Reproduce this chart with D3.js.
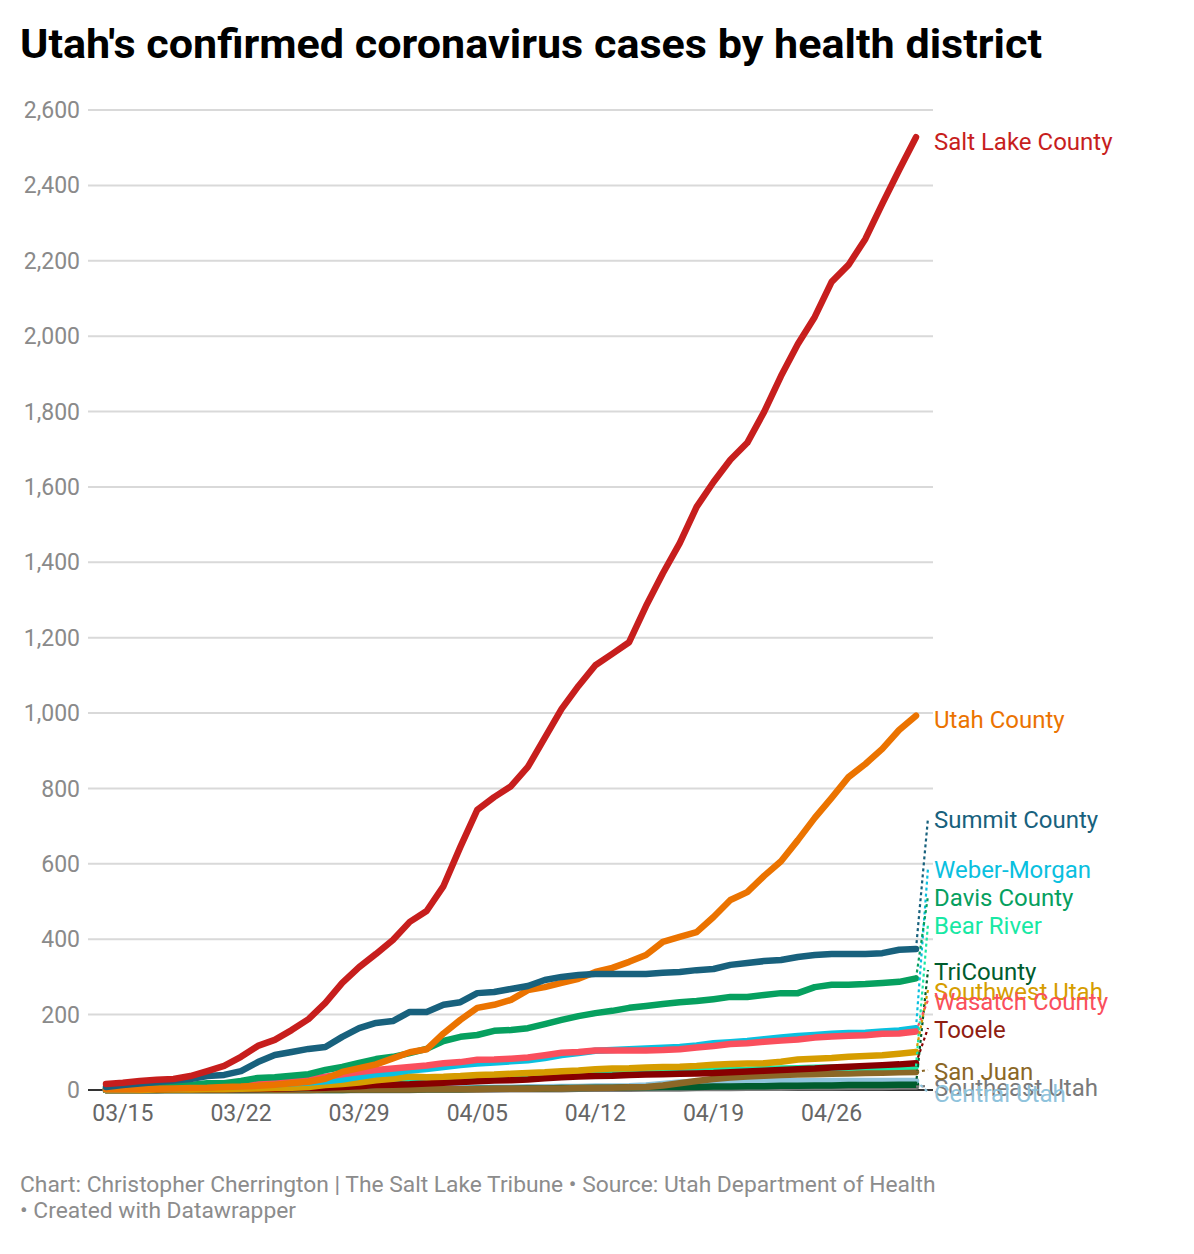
<!DOCTYPE html>
<html>
<head>
<meta charset="utf-8">
<script src="https://cdn.jsdelivr.net/npm/d3@7"></script>
<style>
  body { margin: 0; background: #fff; }
  svg { font-family: Roboto, "Noto Sans", sans-serif; }
</style>
</head>
<body>
<div id="chart"></div>
<script>
// Data (cumulative confirmed cases, 03/14 .. 05/01)
const startDate = new Date(2020, 2, 14);
const dayCount = 49;
const dates = d3.range(dayCount).map(i => d3.timeDay.offset(startDate, i));

const districts = [
  'Southeast Utah', 'Central Utah', 'TriCounty', 'San Juan', 'Bear River', 'Tooele',
  'Southwest Utah', 'Weber-Morgan', 'Wasatch County', 'Davis County', 'Utah County',
  'Summit County', 'Salt Lake County'
];

const saltLake = [16,19,24,27,29,37,50,64,88,117,133,159,188,231,284,326,361,398,446,475,541,645,743,777,806,857,934,1011,1072,1127,1157,1188,1284,1371,1451,1547,1613,1672,1717,1799,1894,1979,2051,2144,2189,2258,2351,2441,2528];
const utahCounty = [1,1,2,3,4,5,6,8,9,11,14,18,22,30,48,58,68,84,100,108,150,186,218,226,239,265,273,284,295,313,324,340,358,393,406,419,459,504,525,568,607,663,722,775,830,865,905,955,993];
const summit = [8,13,17,21,25,29,37,40,50,74,93,101,109,114,141,164,178,183,207,207,226,233,257,260,268,276,292,300,305,308,308,308,308,311,313,318,321,332,337,342,345,353,358,361,361,361,363,372,374];
const davis = [4,6,8,10,11,13,18,18,24,32,34,38,42,53,61,72,82,88,98,109,130,141,146,157,159,164,175,186,196,204,210,218,223,228,233,236,241,247,247,252,257,257,273,279,279,281,284,287,296];
const weberMorgan = [1,2,3,4,5,6,8,9,11,13,15,18,20,23,28,35,42,45,52,56,61,66,70,73,76,79,85,93,98,104,106,108,110,112,114,118,124,127,130,135,139,143,146,149,151,152,155,158,164];
const wasatch = [3,4,5,6,7,8,10,11,14,18,21,24,29,35,42,48,53,57,61,65,71,74,80,81,83,86,92,99,101,105,105,105,105,106,108,113,117,122,124,128,131,134,139,142,144,145,149,150,155];
const southwest = [0,0,0,1,1,1,2,2,3,4,5,6,8,13,16,20,26,30,36,34,35,37,40,41,43,45,47,50,52,55,57,58,60,61,62,64,67,69,70,71,75,81,83,85,88,90,92,96,101];
const bearRiver = [0,0,0,0,1,1,1,1,2,2,3,4,5,7,9,11,14,16,20,23,26,29,31,33,35,37,38,40,42,44,45,46,47,48,50,51,52,53,54,56,57,58,59,60,60,61,61,62,63];
const tooele = [0,0,0,0,1,1,1,1,2,2,3,4,5,6,8,10,13,14,15,17,19,21,23,25,26,28,31,34,36,37,38,40,41,42,43,44,45,47,49,51,53,55,57,60,62,64,66,68,71];
const sanJuan = [0,0,0,0,0,0,0,0,0,0,0,0,0,1,1,1,1,1,1,2,2,2,2,3,3,3,4,4,5,5,6,7,8,12,18,24,29,33,36,38,40,41,42,43,44,45,46,47,48];
const centralUtah = [0,0,0,0,0,0,0,0,0,1,1,1,1,2,2,2,3,3,3,4,4,5,5,6,6,7,7,8,8,9,9,10,12,16,20,22,22,23,23,23,23,23,23,24,24,24,24,24,24];
const triCounty = [0,0,0,0,0,0,0,0,0,0,0,0,0,0,0,1,1,1,1,2,2,2,3,3,3,4,4,5,5,6,6,7,7,8,8,8,9,9,10,10,11,11,12,12,13,13,13,14,14];
const southeast = [0,0,0,0,0,0,0,0,0,0,0,0,0,0,0,0,0,0,0,1,1,1,1,1,2,2,2,2,3,3,3,3,4,4,4,5,5,5,6,6,6,7,7,7,8,8,8,9,9];

const seriesValues = [
  southeast, centralUtah, triCounty, sanJuan, bearRiver, tooele,
  southwest, weberMorgan, wasatch, davis, utahCounty, summit, saltLake
];

const yTicks = d3.range(0, 2601, 200);
const xTickDates = d3.range(1, dayCount, 7).map(i => dates[i]);

// Styles / layout
const lineColors = {
  'Salt Lake County': '#c71e1d', 'Utah County': '#eb7300', 'Summit County': '#18617d',
  'Weber-Morgan': '#0ac0df', 'Davis County': '#06a05f', 'Bear River': '#18e8a4',
  'TriCounty': '#005c2e', 'Southwest Utah': '#d69d00', 'Wasatch County': '#fa4f5d',
  'Tooele': '#870000', 'San Juan': '#8b6726', 'Southeast Utah': '#7a7a7a', 'Central Utah': '#8fc3dc'
};
const labelColors = Object.assign({}, lineColors, { 'Tooele': '#8f1d12' });
// label centre, in pixels (placed like the original to avoid overlap)
const labelY = {
  'Salt Lake County': 142, 'Utah County': 720, 'Summit County': 820, 'Weber-Morgan': 870,
  'Davis County': 898, 'Bear River': 926, 'TriCounty': 972, 'Southwest Utah': 992,
  'Wasatch County': 1002, 'Tooele': 1030, 'San Juan': 1072, 'Southeast Utah': 1088,
  'Central Utah': 1094
};
const noConnector = ['Salt Lake County', 'Utah County'];

const W = 1194, H = 1254;
const PLOT = { left: 88, right: 933, top: 110, bottom: 1090 };

const svg = d3.select('#chart').append('svg')
  .attr('width', W)
  .attr('height', H);

const x = d3.scaleTime()
  .domain([dates[0], dates[dayCount - 1]])
  .range([106, 916]);

const y = d3.scaleLinear()
  .domain([0, 2600])
  .range([PLOT.bottom, PLOT.top]);

// Title
svg.append('text')
  .attr('x', 20)
  .attr('y', 58)
  .attr('textLength', 1022)
  .attr('lengthAdjust', 'spacingAndGlyphs')
  .style('font-size', '40px')
  .style('font-weight', 'bold')
  .attr('fill', '#000')
  .text("Utah's confirmed coronavirus cases by health district");

// Gridlines + y labels
const yAxis = svg.append('g').attr('class', 'y-axis');
yAxis.selectAll('line')
  .data(yTicks)
  .enter()
  .append('line')
  .attr('x1', PLOT.left)
  .attr('x2', PLOT.right)
  .attr('y1', d => y(d))
  .attr('y2', d => y(d))
  .attr('stroke', d => d === 0 ? '#333' : '#d9d9d9')
  .attr('stroke-width', 2);

yAxis.selectAll('text')
  .data(yTicks)
  .enter()
  .append('text')
  .attr('x', 80)
  .attr('y', d => y(d))
  .attr('dy', '0.35em')
  .attr('text-anchor', 'end')
  .attr('fill', '#8a8a8a')
  .style('font-size', '23px')
  .text(d => d3.format(',')(d));

// x labels
svg.append('g')
  .attr('class', 'x-axis')
  .selectAll('text')
  .data(xTickDates)
  .enter()
  .append('text')
  .attr('x', d => x(d))
  .attr('y', 1121)
  .attr('text-anchor', 'middle')
  .attr('fill', '#666')
  .style('font-size', '23px')
  .text(d => d3.timeFormat('%m/%d')(d));

// Lines
const line = d3.line()
  .x((d, i) => x(dates[i]))
  .y(d => y(d));

const series = districts.map((name, k) => ({ name, values: seriesValues[k] }));

svg.append('g')
  .selectAll('path')
  .data(series)
  .enter()
  .append('path')
  .attr('d', d => line(d.values))
  .attr('fill', 'none')
  .attr('stroke', d => lineColors[d.name])
  .attr('stroke-width', 6.5)
  .attr('stroke-linejoin', 'round')
  .attr('stroke-linecap', 'round');

// Connectors from line end to label
const lastX = x(dates[dayCount - 1]);
svg.append('g')
  .selectAll('line')
  .data(series.filter(d => !noConnector.includes(d.name)))
  .enter()
  .append('line')
  .attr('x1', lastX)
  .attr('y1', d => y(d.values[dayCount - 1]))
  .attr('x2', 928)
  .attr('y2', d => labelY[d.name] - 2)
  .attr('stroke', d => lineColors[d.name])
  .attr('stroke-width', 2.2)
  .attr('stroke-dasharray', '3,3');

// Labels
svg.append('g')
  .selectAll('text')
  .data(series)
  .enter()
  .append('text')
  .attr('x', 934)
  .attr('y', d => labelY[d.name])
  .attr('dy', '0.35em')
  .attr('fill', d => labelColors[d.name])
  .style('font-size', '24px')
  .text(d => d.name);

// Footer
const footer = svg.append('text')
  .attr('x', 20)
  .attr('y', 1192)
  .attr('fill', '#8c8c8c')
  .style('font-size', '22.8px');
footer.append('tspan')
  .attr('x', 20)
  .text('Chart: Christopher Cherrington | The Salt Lake Tribune • Source: Utah Department of Health');
footer.append('tspan')
  .attr('x', 20)
  .attr('dy', 26)
  .text('• Created with Datawrapper');
</script>
</body>
</html>
